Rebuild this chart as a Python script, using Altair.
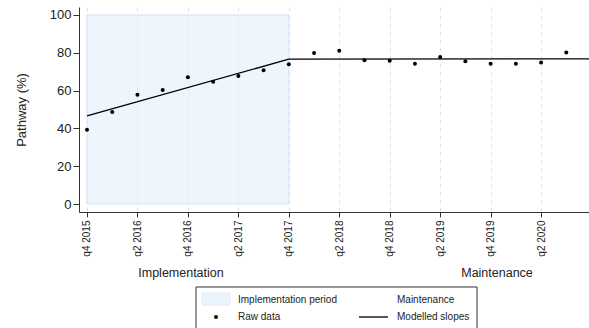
import altair as alt
import pandas as pd

# Quarter index 0 = q4 2015
quarter_labels = [
    "q4 2015", "q1 2016", "q2 2016", "q3 2016", "q4 2016", "q1 2017", "q2 2017",
    "q3 2017", "q4 2017", "q1 2018", "q2 2018", "q3 2018", "q4 2018", "q1 2019",
    "q2 2019", "q3 2019", "q4 2019", "q1 2020", "q2 2020", "q3 2020", "q4 2020",
]
raw_quarter = list(range(20))
raw_pathway = [39.3, 48.7, 57.8, 60.3, 67.0, 64.7, 67.7, 70.7, 73.9, 79.9,
               81.0, 76.0, 75.8, 74.2, 77.8, 75.5, 74.2, 74.2, 74.8, 80.1]

# Modelled segments: implementation slope, then maintenance slope
model_segment = ["Implementation", "Implementation", "Maintenance", "Maintenance"]
model_quarter = [0, 8, 8, 20]
model_pathway = [46.6, 76.6, 76.6, 76.8]

# Implementation period shading
period_start, period_end = 0, 8
period_low, period_high = 0, 100

tick_values = list(range(0, 21, 2))
FONT = "Liberation Sans"
INK = "#222222"

raw_df = pd.DataFrame({"q": raw_quarter, "pathway": raw_pathway})
model_df = pd.DataFrame({"segment": model_segment, "q": model_quarter, "pathway": model_pathway})
period_df = pd.DataFrame({"q0": [period_start], "q1": [period_end],
                          "lo": [period_low], "hi": [period_high]})

label_array = "[" + ",".join("'" + s + "'" for s in quarter_labels) + "]"

x_scale = alt.Scale(domain=[-0.317, 19.9], nice=False, zero=False)
y_scale = alt.Scale(domain=[-4.2, 104.2], nice=False, zero=False)

x_axis = alt.Axis(
    values=tick_values, labelExpr=label_array + "[datum.value]", labelAngle=270,
    labelFontSize=10, labelColor=INK, labelPadding=3, tickSize=5, title=None,
    grid=True, gridDash=[4, 4], gridColor="#e0e0e0", gridWidth=1,
    domainColor="#333333", tickColor="#333333", labelFont=FONT,
)
y_axis = alt.Axis(
    values=[0, 20, 40, 60, 80, 100], title="Pathway (%)", titleFontSize=13,
    titleFontWeight="normal", titleColor=INK, titleFont=FONT, titlePadding=21,
    labelFontSize=13, labelColor=INK, labelFont=FONT, labelPadding=2, tickSize=6,
    grid=False, domainColor="#333333", tickColor="#333333",
)

period = alt.Chart(period_df).mark_rect(
    fill="#e3eefc", fillOpacity=0.6, stroke="#d3e4f7", strokeWidth=1
).encode(
    x=alt.X("q0:Q", scale=x_scale, axis=x_axis),
    x2="q1:Q",
    y=alt.Y("lo:Q", scale=y_scale, axis=y_axis),
    y2="hi:Q",
)

slopes = alt.Chart(model_df).mark_line(color="black", strokeWidth=1.3, clip=True).encode(
    x=alt.X("q:Q", scale=x_scale),
    y=alt.Y("pathway:Q", scale=y_scale),
    detail="segment:N",
)

points = alt.Chart(raw_df).mark_circle(color="black", size=16, opacity=1).encode(
    x=alt.X("q:Q", scale=x_scale),
    y=alt.Y("pathway:Q", scale=y_scale),
)

one = alt.Data(values=[{}])


def label(text, x, y, size, align="left"):
    return alt.Chart(one).mark_text(
        text=text, font=FONT, fontSize=size, color=INK, align=align, baseline="middle"
    ).encode(x=alt.value(x), y=alt.value(y))


phase_labels = label("Implementation", 102, 266, 12.5, "center") + \
    label("Maintenance", 418, 266, 12.5, "center")

legend_box = alt.Chart(one).mark_rect(fill="white", stroke="#333333", strokeWidth=1).encode(
    x=alt.value(117), x2=alt.value(398), y=alt.value(280), y2=alt.value(330)
)
legend_swatch = alt.Chart(one).mark_rect(fill="#eaf3fe", stroke="#e0ecfb").encode(
    x=alt.value(123), x2=alt.value(151), y=alt.value(286), y2=alt.value(298)
)
legend_dot = alt.Chart(one).mark_circle(color="black", size=16, opacity=1).encode(
    x=alt.value(137), y=alt.value(310)
)
legend_line = alt.Chart(one).mark_rule(color="black", strokeWidth=1.3).encode(
    x=alt.value(280), x2=alt.value(309), y=alt.value(310)
)
legend_text = (
    label("Implementation period", 159, 293, 10)
    + label("Maintenance", 318, 293, 10)
    + label("Raw data", 159, 310, 10)
    + label("Modelled slopes", 318, 310, 10)
)

chart = alt.layer(
    period, slopes, points, phase_labels,
    legend_box, legend_swatch, legend_dot, legend_line, legend_text,
).properties(
    width=510, height=205,
    padding={"left": 79, "top": 7, "right": 0, "bottom": 116},
    autosize=alt.AutoSizeParams(type="none"),
    background="white",
).configure_view(stroke=None)

chart.save("out.html", embed_options={"renderer": "svg", "actions": False})
